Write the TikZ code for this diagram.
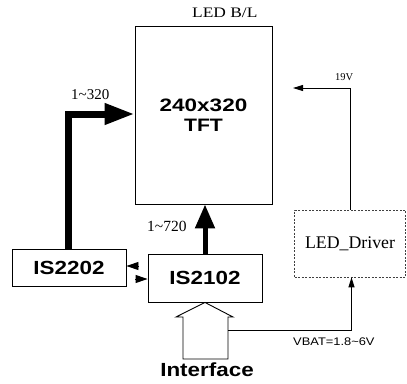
\documentclass[tikz,border=0pt]{standalone}
\usepackage{fontspec}
\usepackage{graphicx}
\setmainfont{Liberation Serif}
\newfontfamily\sansfam{Liberation Sans}
\usetikzlibrary{arrows.meta}
\newcommand{\wide}[1]{\scalebox{1.18}[1]{#1}}
\begin{document}
\begin{tikzpicture}[x=1pt,y=-1pt,
  box/.style={draw,line width=0.9pt,inner sep=0pt,minimum width=#1},
  chiptext/.style={font=\sansfam\bfseries\fontsize{19}{22}\selectfont},
  serif/.style={inner sep=0pt,font=\fontsize{#1}{#1}\selectfont},
  thinarrow/.style={line width=0.9pt,-{Triangle[length=10pt,width=6pt]}},
  smallarrow/.style={line width=0.9pt,-{Triangle[length=12pt,width=8pt]}},
  busarrow/.style={line width=#1,line join=miter}
]
\useasboundingbox (0,0) rectangle (407,383);
% blocks
\node[box=137pt,minimum height=178pt,align=center,
      font=\sansfam\bfseries\fontsize{18}{20}\selectfont] (tft) at (203.5,115)
      {\scalebox{1.25}[1]{240x320}\\\wide{TFT}};
\node[box=114pt,minimum height=37pt,chiptext] (is2202) at (69,267.5) {\wide{IS2202}};
\node[box=114pt,minimum height=48pt,chiptext] (is2102) at (205,278) {\wide{IS2102}};
\node[draw=black!75,line width=0.7pt,dash pattern=on 2pt off 1.5pt,
      minimum width=111pt,minimum height=67pt,inner sep=0pt,
      font=\fontsize{17.8}{20}\selectfont] (driver) at (350,243.5) {LED\_Driver};
% labels
\node[serif=14.5,anchor=base west] (ledbl) at (192,17.3) {\scalebox{1.2}[1]{LED B/L}};
\node[serif=10.5,anchor=base west] (v19lbl) at (335,80.7) {19V};
\node[serif=15,anchor=base west] (l320) at (71,99) {1\textasciitilde320};
\node[serif=15.5,anchor=base west] (l720) at (147,231) {1\textasciitilde720};
\node[inner sep=0pt,anchor=base west,font=\sansfam\fontsize{11}{12}\selectfont] (vbat)
      at (293,345) {\scalebox{1.17}[1]{VBAT=1.8\textasciitilde6V}};
\node[inner sep=0pt,anchor=base,font=\sansfam\bfseries\fontsize{19}{22}\selectfont] (iface)
      at (207,376) {\wide{Interface}};
% buses
\draw[busarrow=7pt,-{Triangle[length=30pt,width=20pt]}]
  ([xshift=-1pt]is2202.north) |- ([yshift=1pt]tft.west);
\draw[busarrow=5pt,-{Triangle[length=24pt,width=19pt]}]
  (is2102.north) -- (is2102.north |- tft.south);
% small arrows between chips
\coordinate (sa1) at (139,266);
\coordinate (sa2) at (135,279);
\draw[smallarrow] (sa1) -- (is2202.east |- sa1);
\draw[smallarrow] (sa2) -- (is2102.west |- sa2);
% hollow interface arrow
\coordinate (hb) at (228,330);
\draw[line width=0.9pt,line join=miter]
  (is2102.south) -- (233,317) -- (228,317) -- (228,359) -- (183,359)
  -- (183,317) -- (176,317) -- cycle;
% power lines
\coordinate (v19) at (293,88);
\draw[thinarrow] (driver.north) |- (v19);
\draw[thinarrow] (hb) -| ([xshift=1.5pt]driver.south);
\end{tikzpicture}
\end{document}
